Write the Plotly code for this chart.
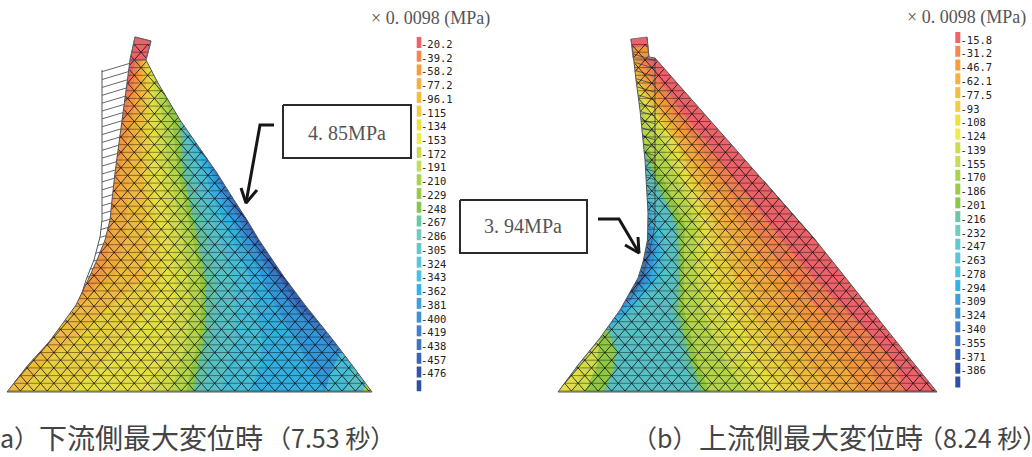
import plotly.graph_objects as go
import numpy as np

# ---------- colour scale ----------
legend_colors = ["#f2606a","#f58650","#f89c3e","#f8ae40","#f6bc40","#f4cc44","#f0e03c","#f0ec50","#ccdc50",
                 "#c4dc58","#a8d44c","#98cc48","#84c84c","#68c8a4","#70ccc0","#60c8d0","#58c8d8","#48c4e0",
                 "#30b4e8","#3ca0dc","#4090d4","#4080cc","#4074c0","#3864bc","#3454a8","#3050a4"]
band_colors = ["#ea626a","#ee8050","#f0963e","#efaa3e","#edba40","#e8cf42","#e4de46","#d0da4a","#b4d44c",
               "#90c846","#64c0a4","#58c0c4","#48bcd4","#34aede","#3496d6","#387ac4","#3360b0"]

# ---------- legends ----------
labels_a = ["-20.2","-39.2","-58.2","-77.2","-96.1","-115","-134","-153","-172","-191","-210","-229","-248",
            "-267","-286","-305","-324","-343","-362","-381","-400","-419","-438","-457","-476"]
labels_b = ["-15.8","-31.2","-46.7","-62.1","-77.5","-93","-108","-124","-139","-155","-170","-186","-201",
            "-216","-232","-247","-263","-278","-294","-309","-324","-340","-355","-371","-386"]

# ---------- dam (a) outline ----------
a_left_y  = [37,60,83,120,153,173,200,220,240,260,280,293,305,323,342,365,392]
a_left_x  = [135,130,127,122,117,115,112,110,105,97,88,82,76,63,49,28,7]
a_right_y = [37,41,60,83,120,153,173,200,220,240,277,305,340,365,392]
a_right_x = [135,151,146,158,180,203,217,234,247,259,284,305,333,352,372]
a_crest_x = [135,151,146,130]
a_crest_y = [37,41,60,60]
a_ref_y   = [70,220,237,260,280,293]
a_ref_x   = [102,102,100,94,86,82]

# stress contours (x of each band edge at each row)
a_rows = [60,83,120,153,173,200,240,277,305,340,365,392]
a_contours = [
 [136,129,118,105,95,80,60,60,40,0,-20,-40],
 [139,134,125,114,108,95,85,80,55,10,-10,-30],
 [141,138,132,124,120,115,110,104,62,20,-5,-25],
 [143,142,138,132,130,128,125,115,78,40,10,-10],
 [145,146,144,142,143,145,148,145,112,72,42,20],
 [147,150,150,150,150,153,160,162,150,125,100,70],
 [149,153,156,158,161,165,172,175,175,170,162,150],
 [151,156,163,166,170,175,183,188,190,187,180,170],
 [153,160,172,176,178,184,193,200,201,199,192,186],
 [155,163,180,181,183,189,198,205,206,204,198,193],
 [157,166,183,186,190,197,208,215,215,212,208,203],
 [159,169,186,193,198,206,220,232,235,235,228,220],
 [161,172,190,199,205,214,232,250,255,262,260,250],
 [163,175,195,204,211,222,242,262,275,295,310,325],
 [165,178,200,210,215,228,250,272,290,325,400,400],
 [167,181,205,215,225,233,256,279,298,345,400,400],
]
a_patches = [
 (12,[325,373,341,331],[392,392,351,372]),
 (11,[345,373,352],[392,392,366]),
 (8,[363,373,366],[392,392,384]),
]

# ---------- dam (b) outline ----------
b_left_y  = [39,53,80,110,140,160,213,240,262,278,310,338,365,392]
b_left_x  = [631,633,636,640,643,645,648,647.5,643,638,620,600,578,558]
b_right_y = [37,57,58,100,140,180,237,277,320,360,392]
b_right_x = [647,649,655,692,727,763,813,845,879,911,937]
b_crest_x = [631,647,649,633]
b_crest_y = [39,37,58,58]
b_ref_y   = [58,225,250,280,300]
b_ref_x   = [655,655,650,641,630]

b_rows = [58,80,110,140,180,225,250,280,310,340,365,392]
b_contours = [
 [-99,-99,-99,-99,-99,640,652,644,615,-99,-99,-99],
 [-99,-99,-99,-99,-99,650,656,650,622,-99,-99,-99],
 [-99,-99,-99,-99,-99,654,660,655,628,-99,-99,-99],
 [-99,-99,-99,-99,644,662,665,662,635,590,570,550],
 [-99,-99,-99,-99,652,674,675,675,672,678,685,695],
 [-99,-99,-99,640,656,678,679,680,678,685,692,702],
 [-99,-99,630,644,664,685,684,684,684,692,698,710],
 [-99,-99,641,660,677,696,695,697,703,715,728,745],
 [-99,-99,648,668,684,702,704,708,720,732,745,765],
 [-99,630,652,674,690,708,712,718,734,748,760,782],
 [-99,636,655,675,695,715,725,735,750,770,785,805],
 [630,640,660,680,702,725,738,750,770,790,810,835],
 [636,646,665,687,712,740,755,770,795,820,845,860],
 [640,652,672,695,722,752,770,790,820,850,870,880],
 [645,660,680,705,735,770,790,815,845,875,895,905],
]
b_patches = [
 (10,[558,606,616,618,610],[392,392,370,350,326]),
 (9,[558,603,613,615,607],[392,392,370,350,330]),
 (7,[558,585,597,599],[392,392,365,340]),
 (6,[558,572,585],[392,392,360]),
 (2,[632,648,649,633],[48,46,58,58]),
]

# ---------- annotations ----------
a_arrow_x = [274,260,246]; a_arrow_y = [125,125,203]
a_head_x = [241,246,257]; a_head_y = [188,203,190]
b_arrow_x = [598,619,639]; b_arrow_y = [219,219,253]
b_head_x = [625,639,638]; b_head_y = [245,253,237]
box_a_x = [283,411,411,283,283]; box_a_y = [105,105,158,158,105]
box_b_x = [460,587,587,460,460]; box_b_y = [200,200,253,253,200]

MESH_DX, MESH_DY, HATCH_DY, BOTTOM = 13.4, 7.7, 8.2, 391.0

fig = go.Figure()

def poly(xs, ys, color):
    fig.add_trace(go.Scatter(x=list(xs)+[xs[0]], y=list(ys)+[ys[0]], mode="lines", fill="toself",
                             fillcolor=color, line=dict(width=0, color=color), hoverinfo="skip"))

def line(xs, ys, color, width):
    fig.add_trace(go.Scatter(x=xs, y=ys, mode="lines", line=dict(color=color, width=width),
                             hoverinfo="skip", connectgaps=False))

def text(x, y, s, size, color, family, pos="middle right"):
    fig.add_trace(go.Scatter(x=[x], y=[y], text=[s], mode="text", textposition=pos, cliponaxis=True,
                             textfont=dict(size=size, color=color, family=family), hoverinfo="skip"))

def dam(ly, lx, ry, rx, cx, cy, rows, contours, patches, colors, crest_color, refy, refx):
    rows = np.array(rows, float)
    L = np.interp(rows, ly, lx) - 3
    R = np.interp(rows, ry, rx) + 3
    poly(list(L)+list(R[::-1]), list(rows)+list(rows[::-1]), colors[0])
    for c, col in zip(contours, colors[1:]):
        e = np.clip(np.array(c, float), L, R)
        poly(list(e)+list(R[::-1]), list(rows)+list(rows[::-1]), col)
    for idx, px, py in patches:
        if min(py) > 300:
            poly(px, py, band_colors[idx])
    # white masks keep the colour inside the outline
    poly(list(lx)+[lx[-1]-8, lx[0]-8], list(ly)+[ly[-1], ly[0]], "white")
    poly(list(rx)+[rx[-1]+8, rx[0]+8], list(ry)+[ry[-1], ry[0]], "white")
    poly(cx, cy, crest_color)
    for idx, px, py in patches:
        if min(py) <= 300:
            poly(px, py, band_colors[idx])
    ys = np.arange(BOTTOM, min(ly) + 1, -MESH_DY)
    XL = np.interp(ys, ly, lx)
    XR = np.interp(ys, ry, rx)
    # undeformed line and hatching
    hx, hy = [], []
    for yy in np.arange(refy[-1], refy[0] - 12, -HATCH_DY):
        xl = float(np.interp(yy, ly, lx))
        yr = min(max(yy + 0.3 * abs(np.interp(yy, refy, refx) - xl), refy[0]), refy[-1])
        hx += [float(np.interp(yr, refy, refx)), xl, None]
        hy += [float(yr), float(yy), None]
    line(refx, refy, "#555555", 1)
    line(hx, hy, "#555555", 0.9)
    # regular triangular lattice, trimmed to the outline
    hxs, hys, mx, my = [], [], [], []
    for yy, xl, xr in zip(ys, XL, XR):
        hxs += [float(xl), float(xr), None]
        hys += [float(yy), float(yy), None]
    x0 = lx[-1]
    for i in range(len(ys) - 1):
        off0 = 0.5 * MESH_DX * (i % 2)
        for j in range(0, int((rx[-1] - x0) / MESH_DX) + 2):
            xa = x0 + off0 + j * MESH_DX
            for d in (-0.5, 0.5):
                xb = xa + d * MESH_DX
                t = np.linspace(0, 1, 13)
                px = xa + (xb - xa) * t
                py = ys[i] + (ys[i + 1] - ys[i]) * t
                inside = (px >= np.interp(py, ly, lx)) & (px <= np.interp(py, ry, rx))
                if inside.sum() >= 2:
                    k = np.where(inside)[0]
                    mx += [float(px[k[0]]), float(px[k[-1]]), None]
                    my += [float(py[k[0]]), float(py[k[-1]]), None]
    line(hxs, hys, "rgba(0,0,0,0.6)", 0.7)
    line(mx, my, "rgba(0,0,0,0.8)", 0.9)
    line(list(lx), list(ly), "#555555", 1)
    line(list(rx), list(ry), "#555555", 1)
    line([lx[-1], rx[-1]], [ly[-1], ry[-1]], "#555555", 1.2)
    line(list(cx)+[cx[0]], list(cy)+[cy[0]], "#666666", 0.8)

dam(a_left_y, a_left_x, a_right_y, a_right_x, a_crest_x, a_crest_y, a_rows, a_contours, a_patches,
    band_colors, band_colors[0], a_ref_y, a_ref_x)
dam(b_left_y, b_left_x, b_right_y, b_right_x, b_crest_x, b_crest_y, b_rows, b_contours, b_patches,
    band_colors[15::-1], band_colors[0], b_ref_y, b_ref_x)

# legends
def legend(labels, x0, w, top0, pitch, h, tx, ty0):
    n = len(legend_colors)
    fig.add_trace(go.Bar(x=[x0]*n, y=[h]*n, base=[top0 + i*pitch for i in range(n)], width=w,
                         marker=dict(color=legend_colors, line=dict(width=0)), hoverinfo="skip"))
    fig.add_trace(go.Scatter(x=[tx]*len(labels), y=[ty0 + i*pitch for i in range(len(labels))],
                             text=labels, mode="text", textposition="middle right", hoverinfo="skip",
                             textfont=dict(size=10.5, color="#222222", family="DejaVu Sans Mono")))
legend(labels_a, 419, 4.6, 37, 13.73, 11, 421, 45.3)
legend(labels_b, 957.8, 5, 32, 13.78, 11, 960.5, 41)

text(371, 19, "× 0. 0098 (MPa)", 18, "#555555", "Liberation Serif")
text(907, 18, "× 0. 0098 (MPa)", 18, "#555555", "Liberation Serif")

# boxes and arrows
line(box_a_x, box_a_y, "#2a2a2a", 2)
line(box_b_x, box_b_y, "#2a2a2a", 2)
line(a_arrow_x, a_arrow_y, "#161616", 3)
line(a_head_x, a_head_y, "#161616", 3)
line(b_arrow_x, b_arrow_y, "#161616", 3)
line(b_head_x, b_head_y, "#161616", 3)
text(347, 135, "4. 85MPa", 20, "#555555", "Liberation Serif", "middle center")
text(523, 228, "3. 94MPa", 20, "#555555", "Liberation Serif", "middle center")

# captions
CJK = "Noto Sans CJK JP"
text(0, 442, "a）", 25, "#444444", CJK)
text(39, 442, "下流側最大変位時", 28, "#444444", CJK)
text(266, 442, "（7.53 秒）", 25, "#444444", CJK)
text(632, 442, "（b）", 25, "#444444", CJK)
text(699, 442, "上流側最大変位時", 28, "#444444", CJK)
text(918, 442, "（8.24 秒）", 25, "#444444", CJK)

fig.update_layout(width=1032, height=457, margin=dict(l=0, r=0, t=0, b=0), showlegend=False,
                  paper_bgcolor="white", plot_bgcolor="white", barmode="overlay",
                  xaxis=dict(range=[0,1032], visible=False, fixedrange=True),
                  yaxis=dict(range=[457,0], visible=False, fixedrange=True))
fig.write_html("out.html", config=dict(displayModeBar=False),
               post_script="document.body.style.margin='0';document.documentElement.style.overflow='hidden';")
